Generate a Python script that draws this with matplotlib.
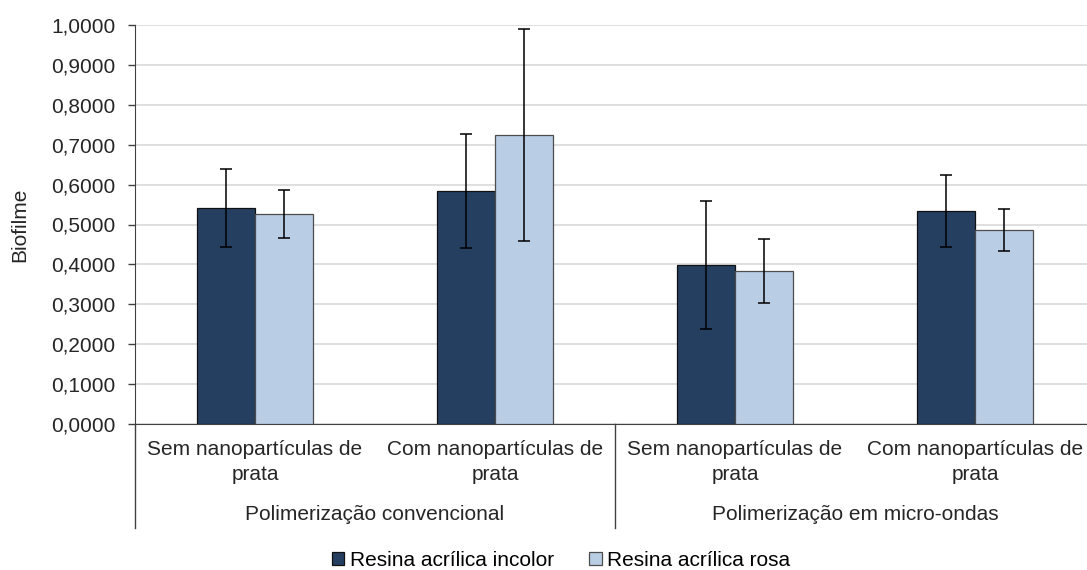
import numpy as np
import matplotlib.pyplot as plt
from matplotlib.transforms import blended_transform_factory

plt.rcParams['font.family'] = ['Liberation Sans', 'DejaVu Sans']

# Biofilm means and standard deviations per condition
categories = ['Sem nanopartículas de\nprata', 'Com nanopartículas de\nprata',
              'Sem nanopartículas de\nprata', 'Com nanopartículas de\nprata']
groups = ['Polimerização convencional', 'Polimerização em micro-ondas']
series = ['Resina acrílica incolor', 'Resina acrílica rosa']
incolor_mean = [0.541, 0.584, 0.398, 0.534]
incolor_sd = [0.097, 0.144, 0.160, 0.090]
rosa_mean = [0.526, 0.724, 0.383, 0.486]
rosa_sd = [0.060, 0.265, 0.080, 0.052]

dark = '#243f60'
light = '#b9cde5'
txt = '#262626'
fs = 15

fig = plt.figure(figsize=(10.87, 5.70), dpi=100)
W, H = 1087, 570
left, right, top, bottom = 135, 1095, 25, 424
ax = fig.add_axes([left / W, 1 - bottom / H, (right - left) / W, (bottom - top) / H])

x = np.arange(len(categories))
bw = 0.24
ekw = dict(ecolor='black', elinewidth=1.1, capsize=4.6, capthick=1.1)
ax.bar(x - bw / 2, incolor_mean, bw, color=dark, edgecolor='#111111', linewidth=0.9,
       yerr=incolor_sd, error_kw=ekw, label=series[0], zorder=3)
ax.bar(x + bw / 2, rosa_mean, bw, color=light, edgecolor='#4d4d4d', linewidth=0.9,
       yerr=rosa_sd, error_kw=ekw, label=series[1], zorder=3)

ax.set_xlim(-0.5, len(categories) - 0.5)
ax.set_ylim(0, 1.0)
ticks = np.arange(0, 1.01, 0.1)
ax.set_yticks(ticks)
ax.set_yticklabels([f'{t:.4f}'.replace('.', ',') for t in ticks], fontsize=fs, color=txt)
ax.yaxis.grid(True, color='#d9d9d9', linewidth=1.2, zorder=0)
ax.set_axisbelow(True)
ax.tick_params(axis='y', length=5, width=1, color='#404040', pad=9)
ax.tick_params(axis='x', length=0, labelbottom=False)
for s in ['top', 'right']:
    ax.spines[s].set_visible(False)
ax.spines['left'].set_color('#404040')
ax.spines['bottom'].set_color('#404040')
ax.set_ylabel('Biofilme', fontsize=fs, color=txt)
ax.yaxis.set_label_coords(-106 / (right - left), 0.5)

# Two-level category axis drawn below the plot
tr = blended_transform_factory(ax.transData, fig.transFigure)
for i, c in enumerate(categories):
    fig.text(x[i], 1 - 462 / H, c, transform=tr, ha='center', va='center',
             fontsize=fs, color=txt, linespacing=1.35)
for g, name in enumerate(groups):
    fig.text(0.5 + 2 * g, 1 - 515 / H, name, transform=tr, ha='center', va='center',
             fontsize=fs, color=txt)
for xv in [-0.5, 1.5]:
    ax.plot([xv, xv], [1 - bottom / H, 1 - 528 / H], transform=tr, color='#404040',
            linewidth=1, clip_on=False)

fig.legend(loc='center', bbox_to_anchor=(561 / W, 1 - 560 / H), ncol=2, frameon=False,
           fontsize=fs, handlelength=0.6, handleheight=0.6, handletextpad=0.25,
           columnspacing=1.7)

fig.savefig('out.png', dpi=100)
